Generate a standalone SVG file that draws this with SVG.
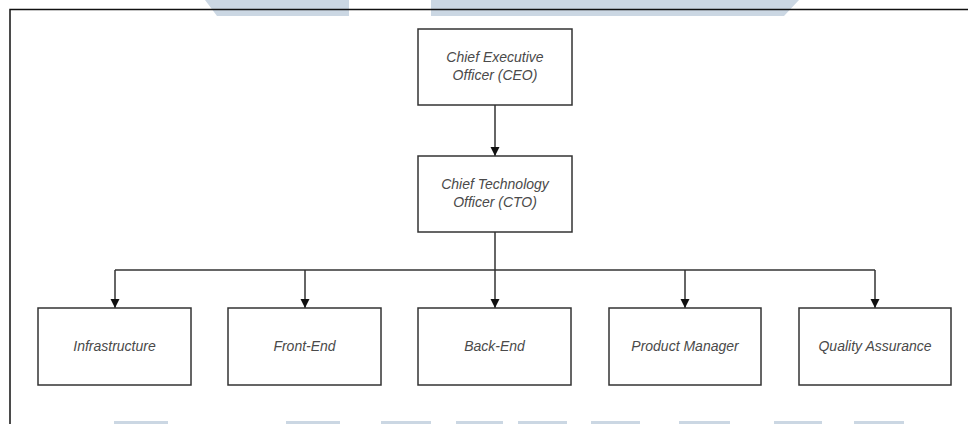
<svg xmlns="http://www.w3.org/2000/svg" width="968" height="424" viewBox="0 0 968 424">
<defs>
<style>
.bg{fill:#ffffff}
.wm{fill:#cbd7e3}
.frame{stroke:#111;stroke-width:1.5;fill:none}
.box{fill:#ffffff;stroke:#333;stroke-width:1.5}
.lbl{font-family:"Liberation Sans",Arial,sans-serif;font-size:14px;font-style:italic;fill:#4a4a4a;text-anchor:middle}
.edge{stroke:#333;stroke-width:1.5;fill:none}
</style>
<marker id="arr" markerWidth="12" markerHeight="12" refX="10" refY="6" orient="auto" markerUnits="userSpaceOnUse">
<path d="M1,1.5 L10,6 L1,10.5 Z" fill="#111"/>
</marker>
</defs>
<rect class="bg" x="0" y="0" width="968" height="424"/>
<g id="watermark">
<polygon class="wm" points="205,0 349,0 349,16 217,16"/>
<polygon class="wm" points="431,0 799,0 784,16 431,16"/>
<rect class="wm" x="114" y="421" width="54" height="3"/>
<rect class="wm" x="286" y="421" width="54" height="3"/>
<rect class="wm" x="381" y="421" width="50" height="3"/>
<rect class="wm" x="456" y="421" width="47" height="3"/>
<rect class="wm" x="518" y="421" width="49" height="3"/>
<rect class="wm" x="591" y="421" width="49" height="3"/>
<rect class="wm" x="679" y="421" width="51" height="3"/>
<rect class="wm" x="774" y="421" width="48" height="3"/>
<rect class="wm" x="854" y="421" width="50" height="3"/>
</g>
<path class="frame" d="M10,424 L10,9.5 L968,9.5"/>
<g id="connectors">
<path class="edge" d="M495,105 L495,156" marker-end="url(#arr)"/>
<path class="edge" d="M495,232 L495,308" marker-end="url(#arr)"/>
<path class="edge" d="M115,270 L875,270"/>
<path class="edge" d="M115,270 L115,308" marker-end="url(#arr)"/>
<path class="edge" d="M305,270 L305,308" marker-end="url(#arr)"/>
<path class="edge" d="M685,270 L685,308" marker-end="url(#arr)"/>
<path class="edge" d="M875,270 L875,308" marker-end="url(#arr)"/>
</g>
<g id="ceo">
<rect class="box" x="418" y="29" width="154" height="76"/>
<text class="lbl" x="495" y="62">Chief Executive</text>
<text class="lbl" x="495" y="80">Officer (CEO)</text>
</g>
<g id="cto">
<rect class="box" x="418" y="156" width="154" height="76"/>
<text class="lbl" x="495" y="189">Chief Technology</text>
<text class="lbl" x="495" y="207">Officer (CTO)</text>
</g>
<g id="infrastructure">
<rect class="box" x="38" y="308" width="153" height="77"/>
<text class="lbl" x="114.5" y="351">Infrastructure</text>
</g>
<g id="frontend">
<rect class="box" x="228" y="308" width="153" height="77"/>
<text class="lbl" x="304.5" y="351">Front-End</text>
</g>
<g id="backend">
<rect class="box" x="418" y="308" width="153" height="77"/>
<text class="lbl" x="494.5" y="351">Back-End</text>
</g>
<g id="productmanager">
<rect class="box" x="609" y="308" width="152" height="77"/>
<text class="lbl" x="685" y="351">Product Manager</text>
</g>
<g id="qa">
<rect class="box" x="799" y="308" width="152" height="77"/>
<text class="lbl" x="875" y="351">Quality Assurance</text>
</g>
</svg>
